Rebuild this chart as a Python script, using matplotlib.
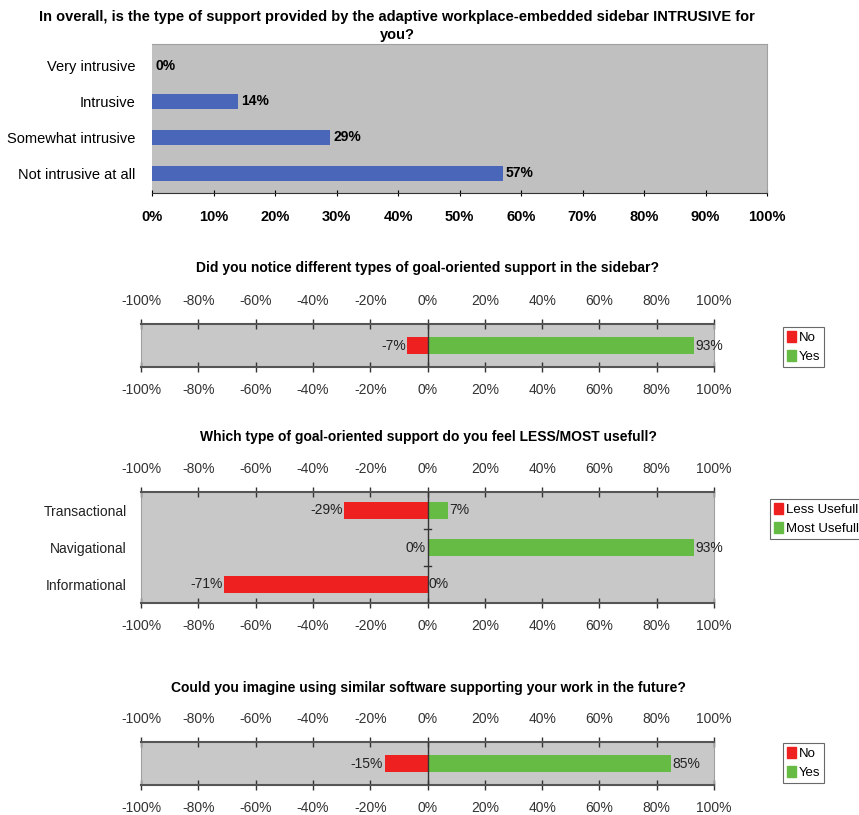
import matplotlib
matplotlib.use("Agg")
import matplotlib.pyplot as plt
from matplotlib.ticker import FuncFormatter, MultipleLocator
from matplotlib.patches import Patch

# ---------------- data ----------------
q1_title = "In overall, is the type of support provided by the adaptive workplace-embedded sidebar INTRUSIVE for\nyou?"
q1_categories = ["Very intrusive", "Intrusive", "Somewhat intrusive", "Not intrusive at all"]
q1_values = [0, 14, 29, 57]

q2_title = "Did you notice different types of goal-oriented support in the sidebar?"
q2_no = [-7]
q2_yes = [93]

q3_title = "Which type of goal-oriented support do you feel LESS/MOST usefull?"
q3_categories = ["Transactional", "Navigational", "Informational"]
q3_less = [-29, 0, -71]
q3_most = [7, 93, 0]

q4_title = "Could you imagine using similar software supporting your work in the future?"
q4_no = [-15]
q4_yes = [85]

# ---------------- style ----------------
FONT = ["Liberation Sans Narrow", "Liberation Sans", "DejaVu Sans"]
plt.rcParams['font.family'] = FONT
BLUE = "#4a66b8"
RED = "#ee2020"
GREEN = "#66bb44"
BG1 = "#c0c0c0"
BG2 = "#c8c8c8"
W, H = 859, 815

fig = plt.figure(figsize=(W / 100, H / 100), dpi=100)

def rect(x0, y0, x1, y1):
    return [x0 / W, 1 - y1 / H, (x1 - x0) / W, (y1 - y0) / H]

pct = FuncFormatter(lambda v, p: f"{int(round(v))}%")

# ---------------- panel 1 ----------------
ax1 = fig.add_axes(rect(152, 44, 767, 193))
ax1.set_facecolor(BG1)
ypos = list(range(len(q1_categories)))
ax1.barh(ypos, q1_values, height=0.42, color=BLUE, zorder=2)
for y, v in zip(ypos, q1_values):
    ax1.text(v + 0.5, y, f"{v}%", va="center", ha="left", fontsize=10,
             fontweight="bold")
ax1.set_xlim(0, 100)
ax1.set_ylim(len(q1_categories) - 0.45, -0.6)
ax1.set_yticks(ypos)
ax1.set_yticklabels(q1_categories, fontsize=10.5)
ax1.tick_params(axis="y", length=0, pad=12)
ax1.xaxis.set_major_locator(MultipleLocator(10))
ax1.xaxis.set_major_formatter(pct)
ax1.tick_params(axis="x", labelsize=10.5, length=5, direction="inout", pad=10)
for lab in ax1.get_xticklabels():
    lab.set_fontweight("bold")
for s in ["top", "right"]:
    ax1.spines[s].set_color("#a0a0a0")
ax1.spines["left"].set_visible(False)
ax1.spines["bottom"].set_color("#333333")
fig.text(397 / W, 1 - 26 / H, q1_title, ha="center", va="center",
         fontsize=10.5, fontweight="bold", linespacing=1.45)

# ---------------- diverging panels ----------------
def diverging(box, title, title_y, neg, pos, cats, legend_labels, legend_box):
    ax = fig.add_axes(rect(*box))
    ax.set_facecolor(BG2)
    n = len(neg)
    yy = list(range(n))
    bh = 0.6 if n == 1 else 0.45
    ax.barh(yy, neg, height=bh, color=RED, zorder=2)
    ax.barh(yy, pos, height=bh, color=GREEN, zorder=2)
    ax.axvline(0, color="#333333", lw=1.0, zorder=3)
    for y, a, b in zip(yy, neg, pos):
        ax.text(a - 0.5, y, f"{a}%", ha="right", va="center", fontsize=10,
                color="#222222")
        ax.text(b + 0.5, y, f"{b}%", ha="left", va="center", fontsize=10,
                color="#222222")
    # category separators on zero line
    for k in range(n - 1):
        ax.plot([-1.2, 1.2], [k + 0.5, k + 0.5], color="#333333", lw=1.0,
                zorder=3, clip_on=False)
    ax.set_xlim(-100, 100)
    if n == 1:
        ax.set_ylim(0.75, -0.75)
        ax.set_yticks([])
    else:
        ax.set_ylim(n - 0.5, -0.5)
        ax.set_yticks(yy)
        ax.set_yticklabels(cats, fontsize=10, color="#222222")
        ax.tick_params(axis="y", length=0, pad=10)
    ax.xaxis.set_major_locator(MultipleLocator(20))
    ax.xaxis.set_major_formatter(pct)
    ax.tick_params(axis="x", which="both", top=True, labeltop=True,
                   bottom=True, labelbottom=True, direction="inout",
                   length=7, width=1, labelsize=10, pad=8, colors="#333333")
    for s in ["top", "bottom"]:
        ax.spines[s].set_color("#555555")
        ax.spines[s].set_linewidth(1.5)
    for s in ["left", "right"]:
        ax.spines[s].set_color("#a0a0a0")
    fig.text(428 / W, 1 - title_y / H, title, ha="center", va="center",
             fontsize=10, fontweight="bold")
    handles = [Patch(color=RED), Patch(color=GREEN)]
    lx0, ly0, lx1, ly1 = legend_box
    lax = fig.add_axes(rect(lx0, ly0, lx1, ly1))
    lax.set_axis_off()
    leg = lax.legend(handles, legend_labels, loc="upper left",
                     bbox_to_anchor=(0, 1), fontsize=9.5, frameon=True,
                     fancybox=False, edgecolor="#444444", handlelength=0.7,
                     handleheight=0.9, handletextpad=0.2, borderpad=0.3,
                     labelspacing=0.45, borderaxespad=0)
    leg.get_frame().set_linewidth(0.8)
    return ax

diverging((141, 324, 714, 367), q2_title, 268, q2_no, q2_yes, None,
          ["No", "Yes"], (783, 327, 840, 363))
diverging((141, 492, 714, 603), q3_title, 437, q3_less, q3_most, q3_categories,
          ["Less Usefull", "Most Usefull"], (770, 499, 859, 566))
diverging((141, 742, 714, 785), q4_title, 688, q4_no, q4_yes, None,
          ["No", "Yes"], (783, 743, 840, 780))

fig.savefig("out.png", dpi=100, facecolor="white")
